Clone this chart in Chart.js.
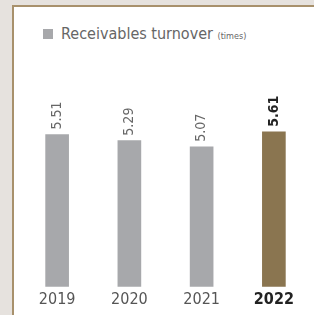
<!DOCTYPE html>
<html>
<head>
<meta charset="utf-8">
<script src="https://cdn.jsdelivr.net/npm/chart.js@4"></script>
<style>
  html, body { margin: 0; padding: 0; background: #e6e2de; }
  body { width: 314px; height: 315px; overflow: hidden; position: relative; font-family: "Liberation Sans Narrow", "DejaVu Sans Condensed", sans-serif; }
  #panel { position: absolute; left: 12px; top: 5px; right: 0; bottom: 0; background: #fff; border-left: 2px solid #a8916c; border-top: 2px solid #a8916c; }
  #legend { position: absolute; left: 43px; top: 24px; color: #666; font-size: 16px; white-space: nowrap; }
  #legend .sw { display: inline-block; width: 10px; height: 10px; background: #a7a8ab; margin-right: 8px; vertical-align: 0px; }
  #legend small { font-size: 9px; }
  #wrap { position: absolute; left: 21px; top: 63px; width: 289px; height: 249px; }
</style>
</head>
<body>
<div id="panel"></div>
<div id="legend"><span class="sw"></span>Receivables turnover <small>(times)</small></div>
<div id="wrap"><canvas id="myChart"></canvas></div>
<script>
// Datos
const years = ['2019', '2020', '2021', '2022'];
const turnover = [5.51, 5.29, 5.07, 5.61];
const labels = ['5.51', '5.29', '5.07', '5.61'];

const barColors = ['#a7a8ab', '#a7a8ab', '#a7a8ab', '#8a7550'];
const font = '"Liberation Sans Narrow", "DejaVu Sans Condensed", sans-serif';

// etiquetas verticales sobre las barras
const valueLabels = {
    id: 'valueLabels',
    afterDatasetsDraw(chart) {
        const ctx = chart.ctx;
        const meta = chart.getDatasetMeta(0);
        meta.data.forEach((bar, i) => {
            const last = i === years.length - 1;
            ctx.save();
            ctx.translate(bar.x, bar.y - 5);
            ctx.rotate(-Math.PI / 2);
            ctx.font = (last ? 'bold ' : '') + '14px ' + font;
            ctx.fillStyle = last ? '#222' : '#666';
            ctx.textAlign = 'left';
            ctx.textBaseline = 'middle';
            ctx.fillText(labels[i], 0, 0);
            ctx.restore();
        });
    }
};

const ctx = document.getElementById('myChart').getContext('2d');
const myChart = new Chart(ctx, {
    type: 'bar',
    data: {
        labels: years,
        datasets: [{
            data: turnover,
            backgroundColor: barColors,
            barThickness: 23
        }]
    },
    options: {
        responsive: true,
        maintainAspectRatio: false,
        animation: false,
        layout: { padding: 0 },
        plugins: { legend: { display: false }, tooltip: { enabled: false } },
        scales: {
            x: {
                grid: { display: false, drawTicks: false },
                border: { display: false },
                ticks: {
                    color: ctx => ctx.index === 3 ? '#222' : '#555',
                    font: ctx => ({ family: font, size: 16, weight: ctx.index === 3 ? 'bold' : 'normal' }),
                    padding: 3
                }
            },
            y: {
                display: false,
                min: 0,
                max: 8.1
            }
        }
    },
    plugins: [valueLabels]
});
</script>
</body>
</html>
